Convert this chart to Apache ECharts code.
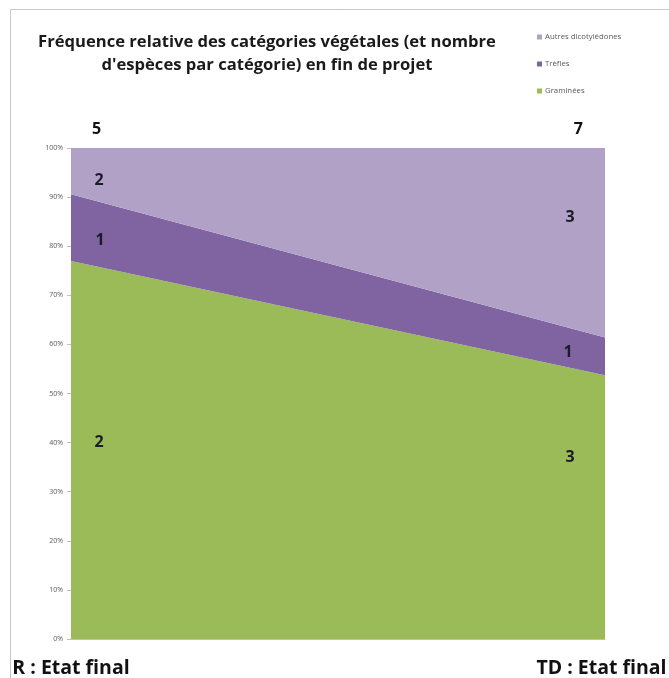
<!DOCTYPE html>
<html>
<head>
<meta charset="utf-8">
<script src="https://cdn.jsdelivr.net/npm/echarts@6/dist/echarts.min.js"></script>
<style>html,body{margin:0;padding:0;background:#fff}#c{width:669px;height:678px}</style>
</head>
<body>
<div id="c"></div>
<script>
// ---- data ----
const categories = ['R : Etat final', 'TD : Etat final'];
const totalSpecies = ['5', '7'];
const seriesNames = ['Graminées', 'Trèfles', 'Autres dicotylédones'];
const graminees = [77.0, 53.7];
const trefles = [13.6, 7.7];
const autres = [9.4, 38.6];
const countGraminees = [2, 3];
const countTrefles = [1, 1];
const countAutres = [2, 3];
const yTicks = [0, 10, 20, 30, 40, 50, 60, 70, 80, 90, 100];

const colors = ['#9BBB59', '#8064A2', '#B2A1C7'];
const FONT = '"Open Sans", Lato, sans-serif';
const labelFont = { fontFamily: FONT, fontWeight: 'bold', fontSize: 16, color: '#1b1b2a' };
const catFont = { fontFamily: FONT, fontWeight: 'bold', fontSize: 19.5, color: '#111' };

function mk(name, values, counts, offsets, color) {
  return {
    name: name,
    type: 'line',
    stack: 'total',
    symbol: 'circle',
    symbolSize: 0,
    showSymbol: true,
    lineStyle: { width: 0 },
    itemStyle: { color: color },
    areaStyle: { color: color, opacity: 1 },
    label: Object.assign({ show: true, position: 'inside', formatter: p => String(counts[p.dataIndex]) }, labelFont),
    data: values.map((v, i) => ({ value: v, label: { offset: offsets[i] } })),
    silent: true,
    animation: false
  };
}

const chart = echarts.init(document.getElementById('c'));
chart.setOption({
  animation: false,
  backgroundColor: '#fff',
  title: {
    text: 'Fréquence relative des catégories végétales (et nombre\nd\'espèces par catégorie) en fin de projet',
    left: 262,
    textAlign: 'center',
    top: 26,
    textStyle: { fontFamily: FONT, fontWeight: 'bold', fontSize: 16.6, lineHeight: 23, color: '#1a1a1a' }
  },
  legend: {
    orient: 'vertical',
    left: 532,
    top: 28,
    itemGap: 19,
    itemWidth: 5,
    itemHeight: 5,
    icon: 'rect',
    data: ['Autres dicotylédones', 'Trèfles', 'Graminées'],
    textStyle: { fontFamily: FONT, fontSize: 7.8, color: '#595959', padding: [0, 0, 0, -2] }
  },
  graphic: [{
    type: 'rect', left: 8, top: 7, silent: true,
    shape: { width: 700, height: 700 },
    style: { fill: 'none', stroke: '#c8c8c8', lineWidth: 1 }
  }],
  grid: { left: 71, right: 64, top: 148, bottom: 39, containLabel: false, outerBoundsMode: 'none' },
  xAxis: [{
    type: 'category',
    data: categories,
    boundaryGap: false,
    axisLine: { show: true, lineStyle: { color: '#c0c0c0' } },
    axisTick: { show: false },
    axisLabel: {
      margin: 19, interval: 0,
      formatter: (v, i) => i === 0 ? '{l|' + v + '}' : '{r|' + v + '}',
      rich: {
        l: Object.assign({}, catFont),
        r: Object.assign({ padding: [0, 7, 0, 0] }, catFont)
      }
    }
  }, {
    type: 'category',
    position: 'top',
    data: totalSpecies,
    boundaryGap: false,
    axisLine: { show: false },
    axisTick: { show: false },
    axisLabel: {
      margin: 11, interval: 0,
      alignMinLabel: 'left', alignMaxLabel: 'right',
      formatter: (v, i) => i === 0 ? '{l|' + v + '}' : '{r|' + v + '}',
      rich: {
        l: Object.assign({ padding: [0, 0, 0, 21] }, labelFont, { color: '#111' }),
        r: Object.assign({ padding: [0, 22, 0, 0] }, labelFont, { color: '#111' })
      }
    }
  }],
  yAxis: {
    type: 'value',
    min: yTicks[0],
    max: yTicks[yTicks.length - 1],
    interval: yTicks[1] - yTicks[0],
    axisLine: { show: false },
    axisTick: { show: true, length: 4, lineStyle: { color: '#bfbfbf' } },
    splitLine: { show: false },
    axisLabel: { formatter: '{value}%', fontFamily: FONT, fontSize: 7, color: '#595959', margin: 8 }
  },
  series: [
    mk(seriesNames[0], graminees, countGraminees, [[28, 182], [-35, 82]], colors[0]),
    mk(seriesNames[1], trefles, countTrefles, [[29, 46], [-37, 15]], colors[1]),
    mk(seriesNames[2], autres, countAutres, [[28, 32], [-35, 69]], colors[2])
  ]
});
</script>
</body>
</html>
